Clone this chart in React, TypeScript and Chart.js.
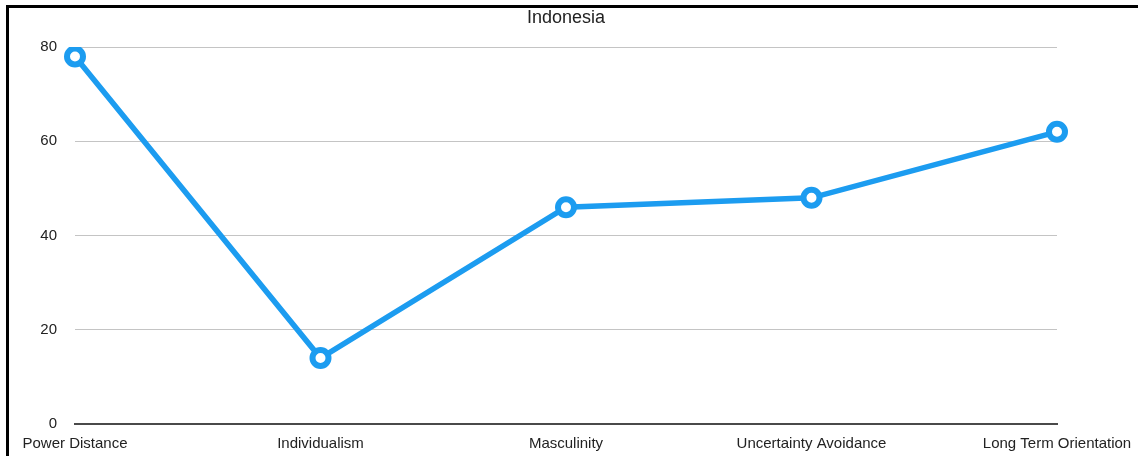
import React, { useEffect, useRef } from "react";
import { Chart, registerables } from "chart.js";

Chart.register(...registerables);

const chartTitle = "Indonesia";
const categories = [
  "Power Distance",
  "Individualism",
  "Masculinity",
  "Uncertainty Avoidance",
  "Long Term Orientation",
];
const scores = [78, 14, 46, 48, 62];
const yMin = 0;
const yMax = 80;
const yStep = 20;

const FONT = 'Helvetica, Arial, "Liberation Sans", sans-serif';
const BLUE = "#1C9CF0";

const centeredTitle = {
  id: "centeredTitle",
  afterDraw(chart: any) {
    const { ctx, chartArea } = chart;
    ctx.save();
    ctx.font = `18px ${FONT}`;
    ctx.fillStyle = "#222222";
    ctx.textAlign = "center";
    ctx.textBaseline = "middle";
    ctx.fillText(chartTitle, (chartArea.left + chartArea.right) / 2, 18.5);
    ctx.restore();
  },
};

export default function App() {
  const canvasRef = useRef<HTMLCanvasElement | null>(null);

  useEffect(() => {
    const canvas = canvasRef.current;
    if (!canvas) return;
    const chart = new Chart(canvas, {
      type: "line",
      data: {
        labels: categories,
        datasets: [
          {
            label: chartTitle,
            data: scores,
            borderColor: BLUE,
            backgroundColor: "#ffffff",
            borderWidth: 5.5,
            pointRadius: 8,
            pointHoverRadius: 8,
            pointBorderWidth: 6,
            pointBackgroundColor: "#ffffff",
            pointBorderColor: BLUE,
            tension: 0,
            fill: false,
          },
        ],
      },
      plugins: [centeredTitle],
      options: {
        responsive: false,
        animation: false,
        layout: { padding: { left: 0, right: 81, top: 47, bottom: 0 } },
        plugins: {
          legend: { display: false },
          tooltip: { enabled: false },
          title: { display: false },
        },
        scales: {
          x: {
            offset: false,
            grid: { display: false, drawTicks: false },
            border: { display: true, color: "#4a4a4a", width: 2 },
            ticks: {
              color: "#222222",
              font: { family: FONT, size: 15 },
              padding: 11,
              maxRotation: 0,
              autoSkip: false,
            },
            afterFit: (s: any) => {
              s.paddingLeft = 0;
              s.paddingRight = 0;
              s.height = 32;
            },
          },
          y: {
            min: yMin,
            max: yMax,
            grid: {
              color: (ctx: any) => (ctx.tick && ctx.tick.value === 0 ? "rgba(0,0,0,0)" : "#c4c4c4"),
              lineWidth: 1,
              drawTicks: false,
            },
            border: { display: false },
            ticks: {
              stepSize: yStep,
              color: "#222222",
              font: { family: FONT, size: 15 },
              padding: 18,
            },
            afterFit: (s: any) => {
              s.width = 75;
              s.paddingTop = 0;
              s.paddingBottom = 0;
            },
          },
        },
      },
    });
    return () => chart.destroy();
  }, []);

  return (
    <div
      style={{
        position: "fixed",
        left: 0,
        top: 0,
        width: 1138,
        height: 456,
        background: "#ffffff",
        overflow: "hidden",
      }}
    >
      <canvas
        ref={canvasRef}
        width={1138}
        height={456}
        style={{ position: "absolute", left: 0, top: 0, width: 1138, height: 456 }}
      />
      <div
        style={{
          position: "absolute",
          left: 6,
          top: 5,
          width: 1200,
          height: 500,
          borderLeft: "3px solid #000",
          borderTop: "3px solid #000",
          pointerEvents: "none",
        }}
      />
    </div>
  );
}
